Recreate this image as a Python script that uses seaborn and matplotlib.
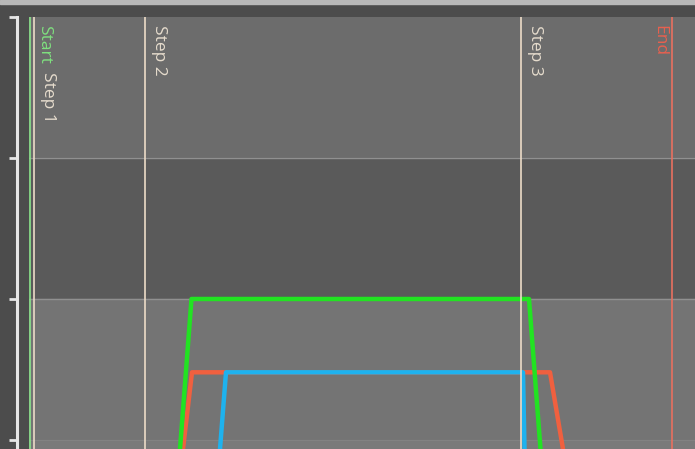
import matplotlib.pyplot as plt
import pandas as pd
import seaborn as sns
from matplotlib.patches import Rectangle

# three speed profiles (x = time, y = level)
green_x = [15.0, 16.15, 49.9, 51.05]
green_y = [-0.064, 1.0, 1.0, -0.064]
red_x = [15.3, 16.2, 52.0, 53.3]
red_y = [-0.064, 0.48, 0.48, -0.064]
blue_x = [19.0, 19.6, 49.3, 49.45]
blue_y = [-0.064, 0.48, 0.48, -0.064]

# vertical event markers
marker_names = ["Start", "Step 1", "Step 2", "Step 3", "End"]
marker_x = [0.0, 0.4, 11.5, 49.1, 64.2]

y_ticks = [0, 1, 2, 3]


def _setup_style() -> None:
    sns.set_theme(style="dark")
    plt.rcParams["font.family"] = ["Open Sans", "DejaVu Sans"]


def main() -> None:
    _setup_style()
    fig = plt.figure(figsize=(6.95, 4.49), dpi=100, facecolor="#4c4c4c")
    fig.patches.append(Rectangle((0, 1 - 4 / 449), 1, 4 / 449, transform=fig.transFigure,
                                 color="#b8b8b8", zorder=0))
    ax = fig.add_axes([29 / 695, 0, 666 / 695, 432 / 449])
    ax.set_facecolor("#6c6c6c")

    # background bands
    ax.axhspan(2, 3, color="#6c6c6c", zorder=0)
    ax.axhspan(1, 2, color="#5a5a5a", zorder=0)
    ax.axhspan(0, 1, color="#747474", zorder=0)
    ax.axhspan(-1, 0, color="#7a7a7a", zorder=0)
    for yv in [1, 2]:
        ax.axhline(yv, color="#909090", lw=1, zorder=1)
    ax.axhline(0, color="#828282", lw=0.8, zorder=1)

    df = pd.concat([
        pd.DataFrame({"x": red_x, "y": red_y, "series": "red"}),
        pd.DataFrame({"x": blue_x, "y": blue_y, "series": "blue"}),
        pd.DataFrame({"x": green_x, "y": green_y, "series": "green"}),
    ], ignore_index=True)
    palette = {"red": "#f0603f", "blue": "#1eb2ee", "green": "#22e322"}
    sns.lineplot(data=df, x="x", y="y", hue="series", hue_order=["red", "blue", "green"],
                 palette=palette, sort=False, estimator=None, lw=3.2, legend=False, ax=ax,
                 zorder=3)

    line_colors = ["#8ae48a", "#eddcc8", "#eddcc8", "#eddcc8", "#e8705f"]
    text_colors = ["#7fe07f", "#e6dccd", "#e6dccd", "#e6dccd", "#e8604f"]
    text_y = [0.981, 0.873, 0.981, 0.981, 0.981]
    for name, xv, lc, tc, ty in zip(marker_names, marker_x, line_colors, text_colors, text_y):
        ax.axvline(xv, color=lc, lw=1.2, zorder=5)
        if name == "End":
            ax.text(xv - 0.5, ty, name, color=tc, rotation=-90, ha="right", va="top",
                    fontsize=12.5, transform=ax.get_xaxis_transform(), zorder=6)
        else:
            ax.text(xv + 0.6, ty, name, color=tc, rotation=-90, ha="left", va="top",
                    fontsize=12.5, transform=ax.get_xaxis_transform(), zorder=6)

    ax.set_xlim(-0.1, 66.5)
    ax.set_ylim(-0.064, 3.0)
    ax.set_yticks(y_ticks)
    ax.set_yticklabels([])
    ax.set_xticks([])
    ax.set_xlabel("")
    ax.set_ylabel("")
    ax.grid(False)
    sns.despine(ax=ax, offset=9, bottom=True)
    ax.spines["left"].set_color("#e6e6e6")
    ax.spines["left"].set_linewidth(2.2)
    ax.tick_params(axis="y", which="major", direction="out", length=6, width=2,
                   color="#e6e6e6", left=True)

    fig.savefig("out.png", dpi=100, facecolor=fig.get_facecolor())
    plt.close(fig)


if __name__ == "__main__":
    main()
